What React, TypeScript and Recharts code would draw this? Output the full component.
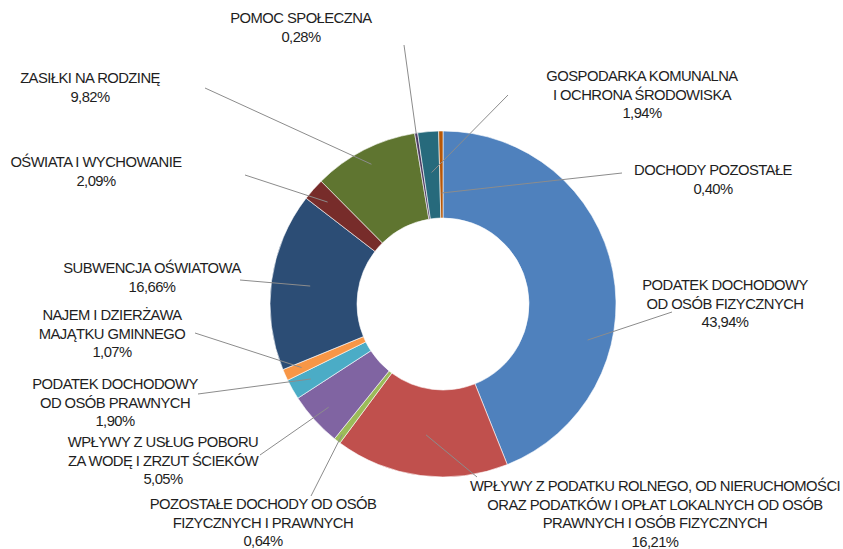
import { Cell, Pie, PieChart } from "recharts";

const CATEGORIES = [
  "PODATEK DOCHODOWY\nOD OSÓB FIZYCZNYCH",
  "WPŁYWY Z PODATKU ROLNEGO, OD NIERUCHOMOŚCI\nORAZ PODATKÓW I OPŁAT LOKALNYCH OD OSÓB\nPRAWNYCH I OSÓB FIZYCZNYCH",
  "POZOSTAŁE DOCHODY OD OSÓB\nFIZYCZNYCH I PRAWNYCH",
  "WPŁYWY Z USŁUG POBORU\nZA WODĘ I ZRZUT ŚCIEKÓW",
  "PODATEK DOCHODOWY\nOD OSÓB PRAWNYCH",
  "NAJEM I DZIERŻAWA\nMAJĄTKU GMINNEGO",
  "SUBWENCJA OŚWIATOWA",
  "OŚWIATA I WYCHOWANIE",
  "ZASIŁKI NA RODZINĘ",
  "POMOC SPOŁECZNA",
  "GOSPODARKA KOMUNALNA\nI OCHRONA ŚRODOWISKA",
  "DOCHODY POZOSTAŁE",
];

const SHARES = [43.94, 16.21, 0.64, 5.05, 1.9, 1.07, 16.66, 2.09, 9.82, 0.28, 1.94, 0.4];

const COLORS = [
  "#4f81bd", "#c0504d", "#9bbb59", "#8064a2", "#4bacc6", "#f79646",
  "#2c4d75", "#772c2a", "#5f7530", "#4d3b62", "#276a7c", "#b65708",
];

// label block: tx/ty = centre of first text line, lx/ly = outer end of leader,
// r = radius of the inner end (on the slice mid angle unless a is given)
const LABEL_LAYOUT: { tx: number; ty: number; lx: number; ly: number; r: number; a?: number }[] = [
  { tx: 725, ty: 285, lx: 672, ly: 312, r: 149, a: -14 },
  { tx: 655, ty: 486, lx: 477, ly: 477, r: 132 },
  { tx: 263, ty: 504, lx: 311, ly: 496, r: 165 },
  { tx: 163, ty: 442, lx: 260, ly: 455, r: 154 },
  { tx: 115, ty: 384, lx: 198, ly: 394, r: 152 },
  { tx: 112, ty: 315, lx: 195, ly: 333, r: 155 },
  { tx: 152, ty: 268, lx: 240, ly: 280, r: 134 },
  { tx: 96, ty: 162, lx: 245, ly: 175, r: 154 },
  { tx: 90, ty: 78, lx: 205, ly: 88, r: 157 },
  { tx: 301, ty: 18, lx: 404, ly: 45, r: 173 },
  { tx: 642, ty: 76, lx: 508, ly: 95, r: 132 },
  { tx: 713, ty: 170, lx: 622, ly: 173, r: 111 },
];

const data = CATEGORIES.map((name, i) => ({ name, value: SHARES[i] }));

const RAD = Math.PI / 180;
const LINE_H = 18.6;
const FONT = "'Liberation Sans', Arial, sans-serif";

const fmt = (v: number) => v.toFixed(2).replace(".", ",") + "%";

function renderLabel(props: any) {
  const { cx, cy, midAngle, index } = props;
  const lay = LABEL_LAYOUT[index];
  const ang = (lay.a ?? midAngle) * RAD;
  const ex = cx + lay.r * Math.cos(ang);
  const ey = cy - lay.r * Math.sin(ang);
  const lines = [...CATEGORIES[index].split("\n"), fmt(SHARES[index])];
  return (
    <g key={`lbl-${index}`}>
      <line x1={lay.lx} y1={lay.ly} x2={ex} y2={ey} stroke="#8c8c8c" strokeWidth={1} />
      <text
        x={lay.tx}
        textAnchor="middle"
        fontSize={14.8}
        fontFamily={FONT}
        letterSpacing={-0.55}
        fill="#1e1e1e"
      >
        {lines.map((l, i) => (
          <tspan key={i} x={lay.tx} y={lay.ty + i * LINE_H + 5.2}>
            {l}
          </tspan>
        ))}
      </text>
    </g>
  );
}

export default function App() {
  return (
    <div style={{ position: "absolute", left: 0, top: 0, background: "#fff" }}>
      <PieChart width={843} height={549} margin={{ top: 0, right: 0, bottom: 0, left: 0 }}>
        <Pie
          data={data}
          dataKey="value"
          nameKey="name"
          cx={443}
          cy={304}
          innerRadius={86}
          outerRadius={173}
          startAngle={90}
          endAngle={-270}
          stroke="#fff"
          strokeWidth={0.6}
          label={renderLabel}
          labelLine={false}
          isAnimationActive={false}
        >
          {data.map((d, i) => (
            <Cell key={d.name} fill={COLORS[i]} />
          ))}
        </Pie>
      </PieChart>
    </div>
  );
}
